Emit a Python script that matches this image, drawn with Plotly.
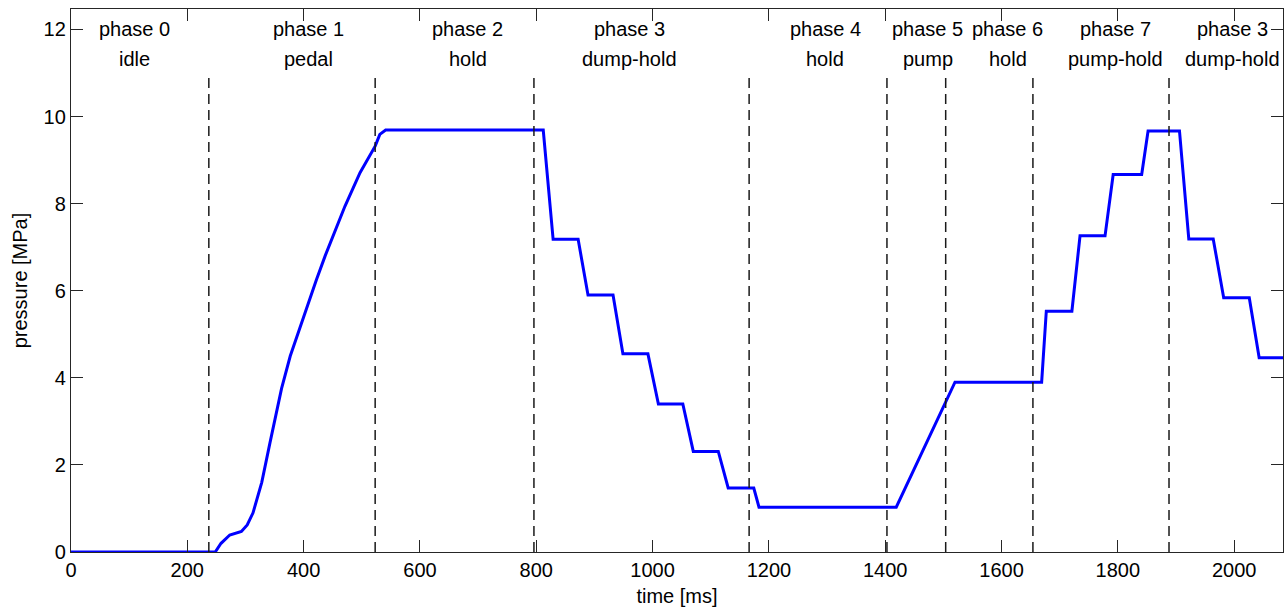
import plotly.graph_objects as go

# pressure trace [ms, MPa]
time_ms = [0, 248, 258, 273, 293, 303, 313, 328, 342, 354, 362, 377, 391, 399, 408,
           422, 437, 451, 471, 497, 523, 531, 541, 812, 829, 872, 889, 932, 949, 992, 1010,
           1052, 1070, 1113, 1130, 1174, 1183, 1419, 1520, 1669, 1677, 1721, 1735, 1778,
           1792, 1841, 1852, 1906, 1922, 1964, 1982, 2026, 2043, 2084]
pressure = [0, 0, 0.2, 0.39, 0.47, 0.62, 0.9, 1.6, 2.5, 3.27, 3.75, 4.5, 5.05, 5.38, 5.72,
            6.25, 6.8, 7.28, 7.94, 8.71, 9.32, 9.59, 9.69, 9.69, 7.18, 7.18, 5.9, 5.9, 4.55, 4.55, 3.40,
            3.40, 2.31, 2.31, 1.47, 1.47, 1.03, 1.03, 3.90, 3.90, 5.53, 5.53, 7.26, 7.26,
            8.67, 8.67, 9.67, 9.67, 7.19, 7.19, 5.84, 5.84, 4.46, 4.46]

# phase boundaries [ms]
boundaries = [237, 523, 796, 1166, 1403, 1504, 1654, 1888]
boundary_top = 11.0

# phase labels
phase_names = ["phase 0", "phase 1", "phase 2", "phase 3", "phase 4",
               "phase 5", "phase 6", "phase 7", "phase 3"]
phase_modes = ["idle", "pedal", "hold", "dump-hold", "hold",
               "pump", "hold", "pump-hold", "dump-hold"]
phase_centers = [110, 408, 682, 960, 1297, 1473, 1611, 1796, 1998]
label_y1 = 12.0
label_y2 = 11.33

x_ticks = list(range(0, 2001, 200))
y_ticks = list(range(0, 13, 2))

FONT = "Liberation Sans, Arial, sans-serif"
AX = "#262626"

fig = go.Figure()

fig.add_trace(go.Scatter(
    x=time_ms, y=pressure, mode="lines",
    line=dict(color="#0000FF", width=3),
    hoverinfo="skip", showlegend=False,
))

bx, by = [], []
for b in boundaries:
    bx += [b, b, None]
    by += [0, boundary_top, None]
fig.add_trace(go.Scatter(
    x=bx, y=by, mode="lines",
    line=dict(color="#1a1a1a", width=1.5, dash="10px,6px"),
    hoverinfo="skip", showlegend=False,
))

for name, mode, cx in zip(phase_names, phase_modes, phase_centers):
    fig.add_annotation(x=cx, y=label_y1, xref="x", yref="y", text=name,
                       showarrow=False, xanchor="center", yanchor="middle",
                       font=dict(family=FONT, size=20, color="#000"))
    fig.add_annotation(x=cx, y=label_y2, xref="x", yref="y", text=mode,
                       showarrow=False, xanchor="center", yanchor="middle",
                       font=dict(family=FONT, size=20, color="#000"))

axis_common = dict(
    showgrid=False, zeroline=False, showline=True, mirror="ticks",
    linecolor=AX, linewidth=1.3, ticks="inside", ticklen=12, tickwidth=1.3,
    tickcolor=AX, tickfont=dict(family=FONT, size=20, color="#000"),
)

fig.update_xaxes(range=[0, 2084], tickvals=x_ticks,
                 title=dict(text="time [ms]", font=dict(family=FONT, size=20, color="#000"), standoff=8),
                 **axis_common)
fig.update_yaxes(range=[0, 12.47], tickvals=y_ticks,
                 title=dict(text="pressure [MPa]", font=dict(family=FONT, size=20, color="#000"), standoff=10),
                 **axis_common)

fig.update_layout(
    width=1285, height=610,
    margin=dict(l=71, r=2, t=9, b=58),
    paper_bgcolor="white", plot_bgcolor="white",
    font=dict(family=FONT, size=20, color="#000"),
)

fig.write_html("out.html")
